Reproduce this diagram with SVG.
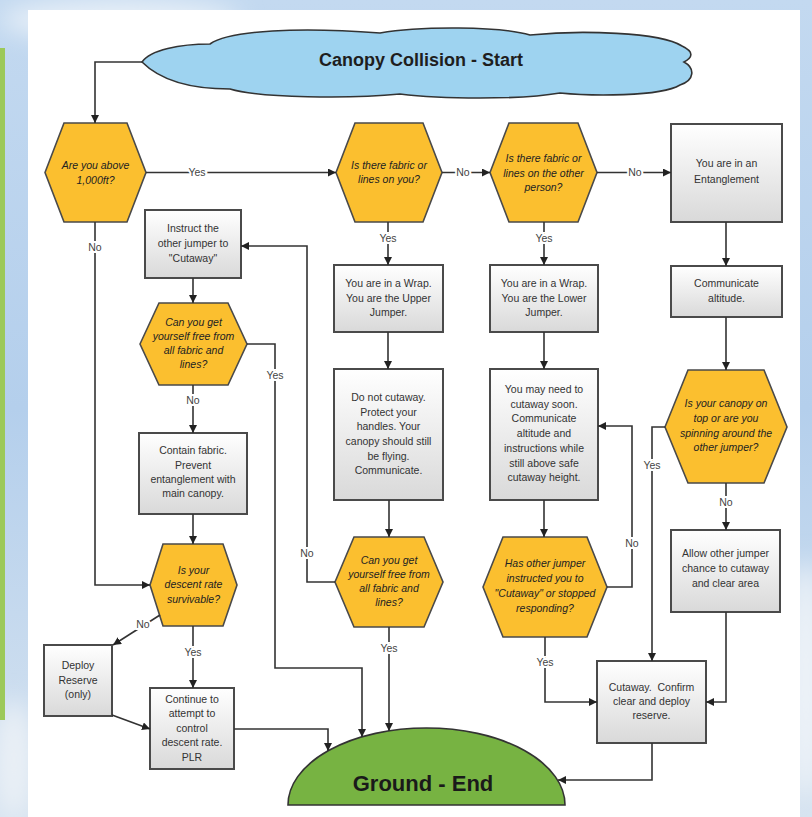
<svg xmlns="http://www.w3.org/2000/svg" width="812" height="817" viewBox="0 0 812 817">
<defs>
<linearGradient id="sky" x1="0" y1="0" x2="0" y2="1">
<stop offset="0" stop-color="#c3d9f0"/>
<stop offset="0.5" stop-color="#b4cfec"/>
<stop offset="1" stop-color="#d6e3f0"/>
</linearGradient>
<linearGradient id="boxg" x1="0" y1="0" x2="0" y2="1">
<stop offset="0" stop-color="#ffffff"/>
<stop offset="1" stop-color="#d9d9d9"/>
</linearGradient>
<filter id="blur" x="-50%" y="-50%" width="200%" height="200%"><feGaussianBlur stdDeviation="12"/></filter>
<marker id="arr" markerUnits="userSpaceOnUse" markerWidth="9" markerHeight="8" refX="8" refY="4" orient="auto">
<path d="M0,0 L8,4 L0,8 Z" fill="#222"/>
</marker>
<style>
.hex{fill:#fbbf2f;stroke:#4a4a4a;stroke-width:1.6}
.box{fill:url(#boxg);stroke:#4a4a4a;stroke-width:2}
.t{font-family:"Liberation Sans",Arial,sans-serif;font-size:10.5px;fill:#333;text-anchor:middle}
.ti{font-style:italic;fill:#222}
.lbl{font-family:"Liberation Sans",Arial,sans-serif;font-size:10.5px;fill:#444;text-anchor:middle;stroke:#fff;stroke-width:4;paint-order:stroke}
.c{fill:none;stroke:#333;stroke-width:1.6;marker-end:url(#arr)}
.cn{fill:none;stroke:#333;stroke-width:1.6}
</style>
</defs>

<rect x="0" y="0" width="812" height="817" fill="url(#sky)"/>
<ellipse cx="120" cy="20" rx="120" ry="20" fill="#e8f0f8" filter="url(#blur)"/>
<ellipse cx="806" cy="680" rx="20" ry="120" fill="#eef3f8" filter="url(#blur)"/>
<ellipse cx="14" cy="760" rx="20" ry="60" fill="#eaf0f6" filter="url(#blur)"/>
<rect x="0" y="48" width="5" height="672" fill="#9cc95a"/>
<rect x="28" y="10" width="772" height="807" fill="#ffffff"/>

<g id="start">
<path d="M142,62 C150,50 180,44 210,44 C230,30 300,27 380,33 C420,26 500,26 530,35 C580,30 660,32 682,46 C695,52 692,58 684,62 C695,68 695,80 680,85 C660,97 590,96 560,93 C520,100 440,99 400,94 C350,99 260,98 230,89 C190,89 160,80 142,62 Z" fill="#9ed3f0" stroke="#333" stroke-width="1.6"/>
<text x="421" y="66" class="t" style="font-size:18px;font-weight:bold;fill:#1e1e1e">Canopy Collision - Start</text>
</g>

<g id="q-above">
<polygon class="hex" points="45,172.5 64,123 127,123 146,172.5 127,222 64,222"/>
<text class="t ti" x="95.5" y="169">Are you above</text>
<text class="t ti" x="95.5" y="184">1,000ft?</text>
</g>

<g id="q-on-you">
<polygon class="hex" points="336,172.5 355,123 423,123 442,172.5 423,222 355,222"/>
<text class="t ti" x="389" y="169">Is there fabric or</text>
<text class="t ti" x="389" y="183">lines on you?</text>
</g>

<g id="q-on-other">
<polygon class="hex" points="490,172.5 509,123 578,123 597,172.5 578,222 509,222"/>
<text class="t ti" x="543.5" y="162">Is there fabric or</text>
<text class="t ti" x="543.5" y="177">lines on the other</text>
<text class="t ti" x="543.5" y="191">person?</text>
</g>

<g id="entangle">
<rect class="box" x="671" y="124" width="111" height="98"/>
<text class="t" x="726.5" y="167">You are in an</text>
<text class="t" x="726.5" y="183">Entanglement</text>
</g>

<g id="communicate">
<rect class="box" x="671" y="266" width="111" height="51"/>
<text class="t" x="726.5" y="287">Communicate</text>
<text class="t" x="726.5" y="302">altitude.</text>
</g>

<g id="q-canopy">
<polygon class="hex" points="665,427 688,370 764,370 787,427 764,483 688,483"/>
<text class="t ti" x="726" y="407">Is your canopy on</text>
<text class="t ti" x="726" y="422">top or are you</text>
<text class="t ti" x="726" y="437">spinning around the</text>
<text class="t ti" x="726" y="451">other jumper?</text>
</g>

<g id="allow">
<rect class="box" x="671" y="530" width="109" height="82"/>
<text class="t" x="725.5" y="557">Allow other jumper</text>
<text class="t" x="725.5" y="572">chance to cutaway</text>
<text class="t" x="725.5" y="587">and clear area</text>
</g>

<g id="cutaway">
<rect class="box" x="597" y="661" width="109" height="82"/>
<text class="t" x="651.5" y="691" xml:space="preserve">Cutaway.  Confirm</text>
<text class="t" x="651.5" y="705">clear and deploy</text>
<text class="t" x="651.5" y="719">reserve.</text>
</g>

<g id="upper">
<rect class="box" x="334" y="265" width="109" height="67"/>
<text class="t" x="388.5" y="287">You are in a Wrap.</text>
<text class="t" x="388.5" y="301.5">You are the Upper</text>
<text class="t" x="388.5" y="316">Jumper.</text>
</g>

<g id="lower">
<rect class="box" x="490" y="265" width="108" height="67"/>
<text class="t" x="544" y="287">You are in a Wrap.</text>
<text class="t" x="544" y="301.5">You are the Lower</text>
<text class="t" x="544" y="316">Jumper.</text>
</g>

<g id="do-not">
<rect class="box" x="334" y="369" width="109" height="131"/>
<text class="t" x="388.5" y="401">Do not cutaway.</text>
<text class="t" x="388.5" y="416">Protect your</text>
<text class="t" x="388.5" y="430">handles. Your</text>
<text class="t" x="388.5" y="445">canopy should still</text>
<text class="t" x="388.5" y="460">be flying.</text>
<text class="t" x="388.5" y="474">Communicate.</text>
</g>

<g id="may-need">
<rect class="box" x="490" y="369" width="108" height="131"/>
<text class="t" x="544" y="393">You may need to</text>
<text class="t" x="544" y="408">cutaway soon.</text>
<text class="t" x="544" y="422">Communicate</text>
<text class="t" x="544" y="437">altitude and</text>
<text class="t" x="544" y="452">instructions while</text>
<text class="t" x="544" y="467">still above safe</text>
<text class="t" x="544" y="481">cutaway height.</text>
</g>

<g id="q-free-mid">
<polygon class="hex" points="335,582 354,537 424,537 443,582 424,627 354,627"/>
<text class="t ti" x="389" y="564">Can you get</text>
<text class="t ti" x="389" y="578">yourself free from</text>
<text class="t ti" x="389" y="592">all fabric and</text>
<text class="t ti" x="389" y="606">lines?</text>
</g>

<g id="q-has-other">
<polygon class="hex" points="483,587 503,537 587,537 607,587 587,637 503,637"/>
<text class="t ti" x="545" y="567">Has other jumper</text>
<text class="t ti" x="545" y="582">instructed you to</text>
<text class="t ti" x="545" y="597">"Cutaway" or stopped</text>
<text class="t ti" x="545" y="612">responding?</text>
</g>

<g id="instruct">
<rect class="box" x="145" y="210" width="96" height="68"/>
<text class="t" x="193" y="232">Instruct the</text>
<text class="t" x="193" y="247">other jumper to</text>
<text class="t" x="193" y="262">"Cutaway"</text>
</g>

<g id="q-free-left">
<polygon class="hex" points="140,344 159,303 228,303 247,344 228,385 159,385"/>
<text class="t ti" x="193.5" y="326">Can you get</text>
<text class="t ti" x="193.5" y="340">yourself free from</text>
<text class="t ti" x="193.5" y="354">all fabric and</text>
<text class="t ti" x="193.5" y="368">lines?</text>
</g>

<g id="contain">
<rect class="box" x="139" y="433" width="108" height="81"/>
<text class="t" x="193" y="454">Contain fabric.</text>
<text class="t" x="193" y="469">Prevent</text>
<text class="t" x="193" y="483">entanglement with</text>
<text class="t" x="193" y="497">main canopy.</text>
</g>

<g id="q-descent">
<polygon class="hex" points="150,585 163,544 223,544 237,585 223,626 163,626"/>
<text class="t ti" x="193.5" y="574">Is your</text>
<text class="t ti" x="193.5" y="588">descent rate</text>
<text class="t ti" x="193.5" y="603">survivable?</text>
</g>

<g id="deploy">
<rect class="box" x="44" y="645" width="68" height="71"/>
<text class="t" x="78" y="669">Deploy</text>
<text class="t" x="78" y="684">Reserve</text>
<text class="t" x="78" y="698">(only)</text>
</g>

<g id="continue">
<rect class="box" x="150" y="688" width="84" height="81"/>
<text class="t" x="192" y="703">Continue to</text>
<text class="t" x="192" y="717">attempt to</text>
<text class="t" x="192" y="732">control</text>
<text class="t" x="192" y="746">descent rate.</text>
<text class="t" x="192" y="761">PLR</text>
</g>

<g id="end">
<path d="M288,805 A138.5,77 0 0 1 565,805 Z" fill="#77b342" stroke="#333" stroke-width="1.6"/>
<text x="423" y="791" class="t" style="font-size:22px;font-weight:bold;fill:#1a1a1a">Ground - End</text>
</g>

<g id="connectors">
<path class="c" d="M142,62 H95 V123"/>
<path class="c" d="M146,172.5 H336"/>
<path class="c" d="M442,172.5 H490"/>
<path class="c" d="M597,172.5 H671"/>
<path class="c" d="M95,222 V585 H150"/>
<path class="c" d="M388,222 V265"/>
<path class="c" d="M544,222 V265"/>
<path class="c" d="M726,222 V266"/>
<path class="c" d="M726,317 V370"/>
<path class="c" d="M726,483 V530"/>
<path class="c" d="M726,612 V702 H706"/>
<path class="c" d="M665,427 H652 V661"/>
<path class="c" d="M652,743 V780 H558"/>
<path class="c" d="M388,332 V369"/>
<path class="c" d="M544,332 V369"/>
<path class="c" d="M389,500 V537"/>
<path class="c" d="M544,500 V537"/>
<path class="c" d="M335,582 H307 V246 H241"/>
<path class="c" d="M389,627 V731"/>
<path class="c" d="M607,587 H632 V426 H598"/>
<path class="c" d="M545,637 V702 H597"/>
<path class="c" d="M193,278 V303"/>
<path class="c" d="M247,344 H275 V668 H362 V737"/>
<path class="c" d="M193,385 V433"/>
<path class="c" d="M193,514 V544"/>
<path class="c" d="M160,615 L113,645"/>
<path class="c" d="M193,626 V688"/>
<path class="c" d="M112,715 L150,729"/>
<path class="c" d="M234,729 H328 V751"/>
<text class="lbl" x="197" y="176">Yes</text>
<text class="lbl" x="463" y="176">No</text>
<text class="lbl" x="635" y="176">No</text>
<text class="lbl" x="95" y="251">No</text>
<text class="lbl" x="388" y="242">Yes</text>
<text class="lbl" x="544" y="242">Yes</text>
<text class="lbl" x="275" y="379">Yes</text>
<text class="lbl" x="193" y="404">No</text>
<text class="lbl" x="307" y="557">No</text>
<text class="lbl" x="389" y="652">Yes</text>
<text class="lbl" x="632" y="547">No</text>
<text class="lbl" x="545" y="666">Yes</text>
<text class="lbl" x="652" y="469">Yes</text>
<text class="lbl" x="726" y="506">No</text>
<text class="lbl" x="143" y="628">No</text>
<text class="lbl" x="193" y="656">Yes</text>
</g>
</svg>
